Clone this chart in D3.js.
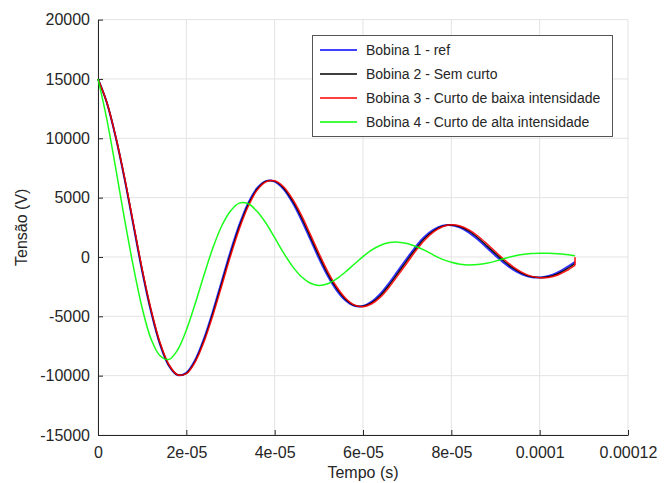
<!DOCTYPE html>
<html lang="pt">

<head>
    <meta charset="utf-8">
    <title>Tensão x Tempo - Bobinas</title>
    <script type="text/javascript" src="https://d3js.org/d3.v7.min.js"></script>
    <style>
        body { margin: 0; background: #fff; }
        text { font-family: "Liberation Sans", Arial, sans-serif; fill: #262626; }
    </style>
</head>

<body>
    <script type="text/javascript">
        // tempo em microssegundos
        var tempo = [0, 2, 4, 6, 8, 10, 12, 14, 16, 18, 20, 22, 24, 26, 28, 30, 32, 34, 36, 38,
            40, 42, 44, 46, 48, 50, 52, 54, 56, 58, 60, 62, 64, 66, 68, 70, 72, 74, 76, 78,
            80, 82, 84, 86, 88, 90, 92, 94, 96, 98, 100, 102, 104, 106, 108];

        var bobina1 = [15000, 13000, 10100, 6600, 2700, -1200, -4600, -7330, -9140, -9950,
            -9760, -8680, -6880, -4590, -2060, 460, 2720, 4540, 5790, 6390,
            6350, 5720, 4610, 3180, 1540, -100, -1590, -2790, -3650, -4110,
            -4130, -3760, -3080, -2150, -1120, -100, 900, 1720, 2300, 2630,
            2680, 2470, 2050, 1470, 800, 110, -530, -1070, -1460, -1690,
            -1730, -1610, -1330, -900, -400];

        var bobina2 = [15000, 13010, 10140, 6660, 2790, -1100, -4500, -7240, -9080, -9930,
            -9800, -8770, -7020, -4760, -2250, 260, 2540, 4400, 5700, 6360,
            6390, 5820, 4760, 3370, 1760, 120, -1400, -2640, -3550, -4070,
            -4160, -3850, -3220, -2330, -1310, -290, 720, 1580, 2200, 2590,
            2700, 2540, 2170, 1620, 960, 280, -380, -950, -1380, -1650,
            -1740, -1670, -1430, -1040, -550];

        var bobina3 = [15000, 13030, 10170, 6720, 2870, -1000, -4400, -7155, -9025, -9920,
            -9830, -8850, -7150, -4935, -2450, 70, 2360, 4250, 5610, 6330,
            6420, 5920, 4920, 3570, 1970, 330, -1205, -2485, -3450, -4035,
            -4190, -3940, -3365, -2505, -1505, -490, 540, 1435, 2110, 2550,
            2715, 2615, 2280, 1765, 1130, 440, -230, -830, -1295, -1615,
            -1750, -1720, -1535, -1170, -700];
        // ultimo ponto da bobina 3 (volta para perto de zero no fim)
        var bobina3Fim = [108, -30];

        var bobina4 = [15000, 11600, 7500, 3200, -800, -4300, -6900, -8300, -8640, -7840,
            -6160, -3940, -1520, 750, 2610, 3880, 4540, 4480, 3850, 2860,
            1630, 360, -770, -1650, -2190, -2400, -2260, -1850, -1270, -610,
            30, 590, 990, 1210, 1250, 1130, 880, 550, 150, -200,
            -450, -610, -670, -630, -520, -350, -130, 60, 200, 290,
            320, 310, 270, 200, 110];

        var nomes = ["Bobina 1 - ref", "Bobina 2 - Sem curto",
            "Bobina 3 - Curto de baixa intensidade", "Bobina 4 - Curto de alta intensidade"];
        var cores = ["#0000ff", "#000000", "#ff0000", "#00ff00"];

        var xTicks = [0, 20, 40, 60, 80, 100, 120];
        var xTickLabels = ["0", "2e-05", "4e-05", "6e-05", "8e-05", "0.0001", "0.00012"];
        var yTicks = [-15000, -10000, -5000, 0, 5000, 10000, 15000, 20000];

        var width = 668, height = 483;
        var margin = { top: 20, right: 40, bottom: 48, left: 98 };

        var svg = d3.select("body")
            .append("svg")
            .attr("width", width)
            .attr("height", height);

        var x = d3.scaleLinear()
            .domain([0, 120])
            .range([margin.left, width - margin.right]);

        var y = d3.scaleLinear()
            .domain([-15000, 20000])
            .range([height - margin.bottom, margin.top - 0.4]);

        // grade
        svg.append("g")
            .selectAll("line")
            .data(xTicks)
            .enter()
            .append("line")
            .attr("x1", function (d) { return x(d); })
            .attr("x2", function (d) { return x(d); })
            .attr("y1", y(-15000))
            .attr("y2", y(20000))
            .attr("stroke", "#e3e3e3")
            .attr("stroke-width", 1);

        svg.append("g")
            .selectAll("line")
            .data(yTicks)
            .enter()
            .append("line")
            .attr("x1", x(0))
            .attr("x2", x(120))
            .attr("y1", function (d) { return y(d); })
            .attr("y2", function (d) { return y(d); })
            .attr("stroke", "#e3e3e3")
            .attr("stroke-width", 1);

        // eixos
        var xAxis = d3.axisBottom(x)
            .tickValues(xTicks)
            .tickSizeInner(-5)
            .tickSizeOuter(0)
            .tickPadding(12)
            .tickFormat(function (d, i) { return xTickLabels[i]; });

        var yAxis = d3.axisLeft(y)
            .tickValues(yTicks)
            .tickSizeInner(-5)
            .tickSizeOuter(0)
            .tickPadding(8)
            .tickFormat(function (d) { return d; });

        var gx = svg.append("g")
            .attr("transform", "translate(0," + y(-15000) + ")")
            .call(xAxis);

        var gy = svg.append("g")
            .attr("transform", "translate(" + x(0) + ",0)")
            .call(yAxis);

        [gx, gy].forEach(function (g) {
            g.selectAll("path, line").attr("stroke", "#262626");
            g.selectAll("text")
                .attr("font-size", 16)
                .attr("font-family", "Liberation Sans, Arial, sans-serif")
                .attr("fill", "#262626");
        });

        // linhas
        var linha = d3.line()
            .x(function (d) { return x(d[0]); })
            .y(function (d) { return y(d[1]); })
            .curve(d3.curveCatmullRom.alpha(0.5));

        var series = [bobina1, bobina2, bobina3, bobina4];
        series.forEach(function (s, k) {
            var pts = tempo.map(function (t, i) { return [t, s[i]]; });
            svg.append("path")
                .datum(pts)
                .attr("fill", "none")
                .attr("stroke", cores[k])
                .attr("stroke-width", k === 0 ? 2 : 1.5)
                .attr("stroke-opacity", k === 0 ? 0.8 : 0.9)
                .attr("d", linha);
            if (k === 2) {
                svg.append("path")
                    .datum([pts[pts.length - 1], bobina3Fim])
                    .attr("fill", "none")
                    .attr("stroke", cores[k])
                    .attr("stroke-width", 1.5)
                    .attr("d", d3.line()
                        .x(function (d) { return x(d[0]); })
                        .y(function (d) { return y(d[1]); }));
            }
        });

        // legenda
        var leg = svg.append("g");
        leg.append("rect")
            .attr("x", 312.5)
            .attr("y", 35.5)
            .attr("width", 300)
            .attr("height", 101)
            .attr("fill", "#fff")
            .attr("stroke", "#555")
            .attr("stroke-width", 1);

        nomes.forEach(function (n, i) {
            var yy = 50 + i * 24;
            leg.append("line")
                .attr("x1", 320)
                .attr("x2", 357)
                .attr("y1", yy)
                .attr("y2", yy)
                .attr("stroke", cores[i])
                .attr("stroke-width", 1.5);
            leg.append("text")
                .attr("x", 366)
                .attr("y", yy + 5)
                .attr("font-size", 14)
                .text(n);
        });

        // titulos dos eixos
        svg.append("text")
            .attr("x", (x(0) + x(120)) / 2)
            .attr("y", 478)
            .attr("text-anchor", "middle")
            .attr("font-size", 16)
            .text("Tempo (s)");

        svg.append("text")
            .attr("transform", "translate(27," + (y(2500)) + ") rotate(-90)")
            .attr("text-anchor", "middle")
            .attr("font-size", 16)
            .text("Tensão (V)");
    </script>
</body>

</html>
